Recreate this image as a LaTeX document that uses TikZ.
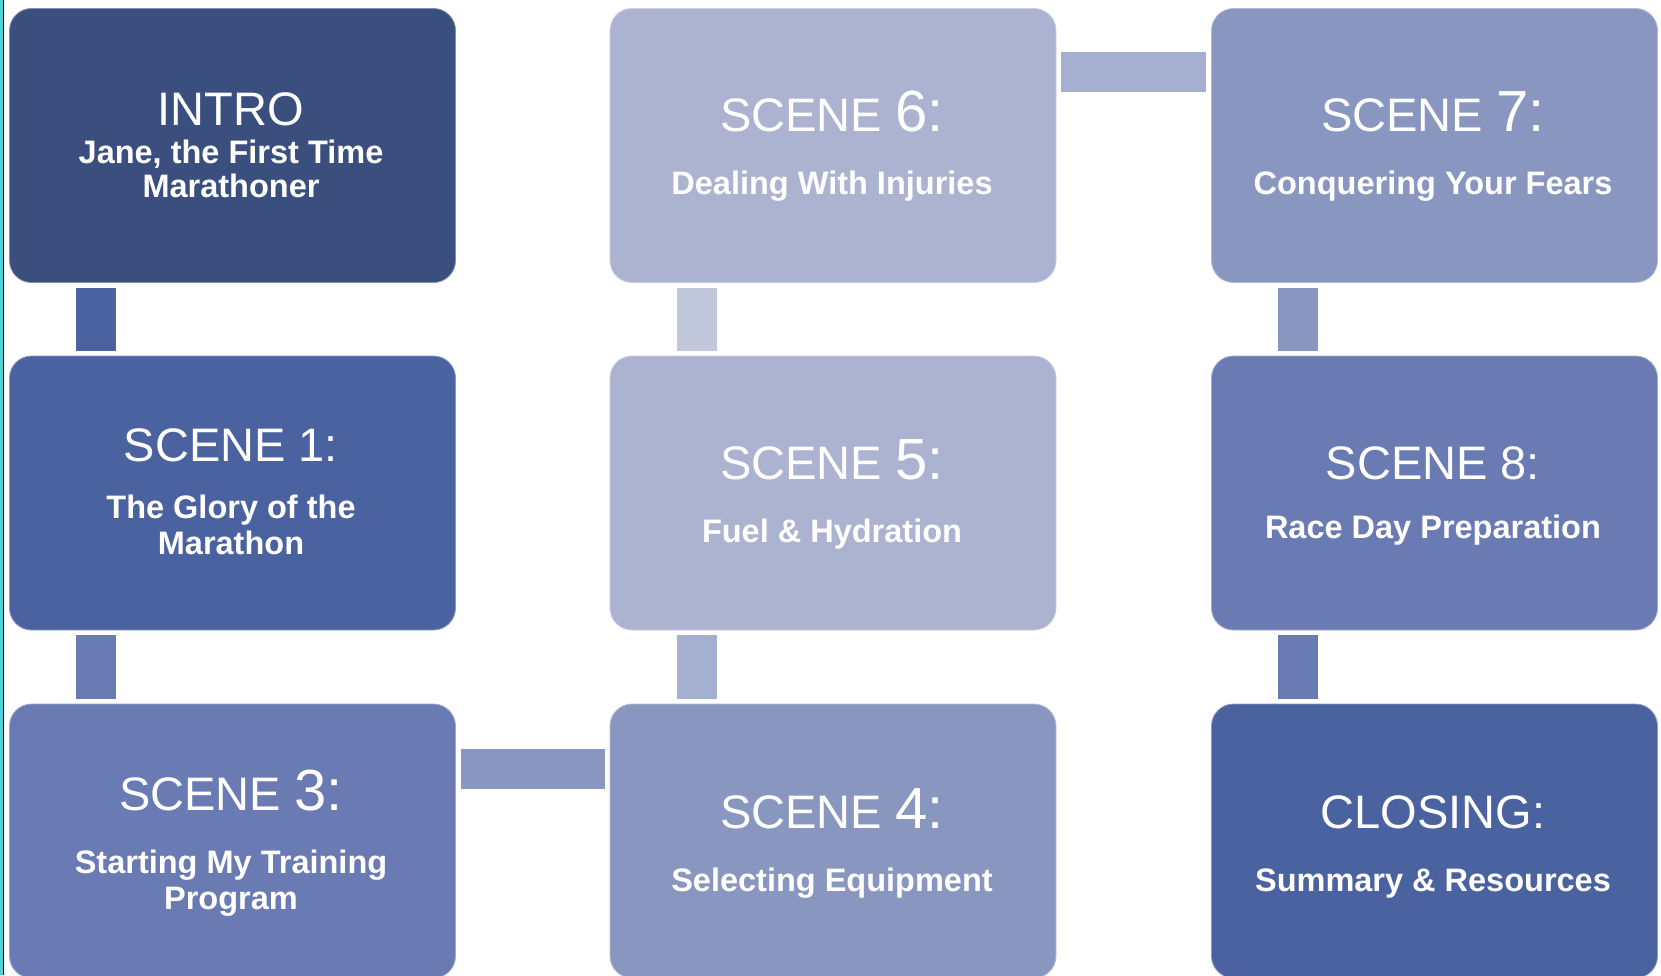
\documentclass[tikz,border=0pt]{standalone}
\usepackage{fontspec}
\setmainfont{Liberation Sans}
\usepackage{xcolor}
\usepackage{tikz}
\definecolor{introc}{HTML}{3B4F7E}
\definecolor{deepc}{HTML}{4A62A0}
\definecolor{midc}{HTML}{6A7AB3}
\definecolor{softc}{HTML}{8997C0}
\definecolor{palec}{HTML}{ACB3D1}
\definecolor{linkpale}{HTML}{C2C8DC}
\definecolor{linkmid}{HTML}{A5AFCF}
\definecolor{edgec}{HTML}{4FD3DB}
\newcommand\bignum[1]{{\fontsize{58}{58}\selectfont #1}}

\begin{document}
\begin{tikzpicture}[x=1pt, y=-1pt,
  box/.style={draw=#1!65!white, line width=0.8pt, fill=#1, rounded corners=22pt,
    minimum width=446pt, minimum height=274pt, inner sep=0pt},
  ttl/.style={anchor=base, text=white, inner sep=0pt, font=\fontsize{47}{47}\selectfont},
  sub/.style={anchor=base, text=white, inner sep=0pt, font=\bfseries\fontsize{32.5}{32.5}\selectfont},
  link/.style={#1, line width=40pt, shorten <=5pt, shorten >=5pt}]
  \useasboundingbox (0,0) rectangle (1661,975);
  \fill[white] (0,0) rectangle (1661,975);
  \fill[edgec] (0,0) rectangle (2.5,975);
  \fill[black] (2.5,0) rectangle (3.8,975);

  % boxes
  \node[box=introc] (intro) at (232.5,145.5) {};
  \node[box=deepc] (sc1) at (232.5,493) {};
  \node[box=midc] (sc3) at (232.5,841) {};
  \node[box=softc] (sc4) at (833,841) {};
  \node[box=palec] (sc5) at (833,493) {};
  \node[box=palec] (sc6) at (833,145.5) {};
  \node[box=softc] (sc7) at (1434.5,145.5) {};
  \node[box=midc] (sc8) at (1434.5,493) {};
  \node[box=deepc] (closing) at (1434.5,841) {};

  % links
  \draw[link=deepc] ([xshift=87pt]intro.south west) -- ([xshift=87pt]sc1.north west);
  \draw[link=midc] ([xshift=87pt]sc1.south west) -- ([xshift=87pt]sc3.north west);
  \draw[link=softc] ([yshift=-65.5pt]sc3.north east) -- ([yshift=-65.5pt]sc4.north west);
  \draw[link=linkmid] ([xshift=87pt]sc4.north west) -- ([xshift=87pt]sc5.south west);
  \draw[link=linkpale] ([xshift=87pt]sc5.north west) -- ([xshift=87pt]sc6.south west);
  \draw[link=linkmid] ([yshift=-64pt]sc6.north east) -- ([yshift=-64pt]sc7.north west);
  \draw[link=softc] ([xshift=87pt]sc7.south west) -- ([xshift=87pt]sc8.north west);
  \draw[link=midc] ([xshift=87pt]sc8.south west) -- ([xshift=87pt]closing.north west);

  % texts
  \node[ttl] (intro-t) at (231,125) {INTRO};
  \node[sub] (intro-a) at (231,163) {Jane, the First Time};
  \node[sub] (intro-b) at (231,197) {Marathoner};
  \node[ttl] (sc1-t) at (231,461.5) {SCENE 1:};
  \node[sub] (sc1-a) at (231,518.5) {The Glory of the};
  \node[sub] (sc1-b) at (231,554) {Marathon};
  \node[ttl] (sc3-t) at (231,810) {SCENE \bignum{3:}};
  \node[sub] (sc3-a) at (231,873) {Starting My Training};
  \node[sub] (sc3-b) at (231,909) {Program};
  \node[ttl] (sc4-t) at (832,828.5) {SCENE \bignum{4:}};
  \node[sub] (sc4-a) at (832,891.5) {Selecting Equipment};
  \node[ttl] (sc5-t) at (832,479.5) {SCENE \bignum{5:}};
  \node[sub] (sc5-a) at (832,542.5) {Fuel \& Hydration};
  \node[ttl] (sc6-t) at (832,131.5) {SCENE \bignum{6:}};
  \node[sub] (sc6-a) at (832,194.5) {Dealing With Injuries};
  \node[ttl] (sc7-t) at (1433,131.5) {SCENE \bignum{7:}};
  \node[sub] (sc7-a) at (1433,194.5) {Conquering Your Fears};
  \node[ttl] (sc8-t) at (1433,479.5) {SCENE 8:};
  \node[sub] (sc8-a) at (1433,538) {Race Day Preparation};
  \node[ttl] (closing-t) at (1433,828.5) {CLOSING:};
  \node[sub] (closing-a) at (1433,891.5) {Summary \& Resources};
\end{tikzpicture}
\end{document}
